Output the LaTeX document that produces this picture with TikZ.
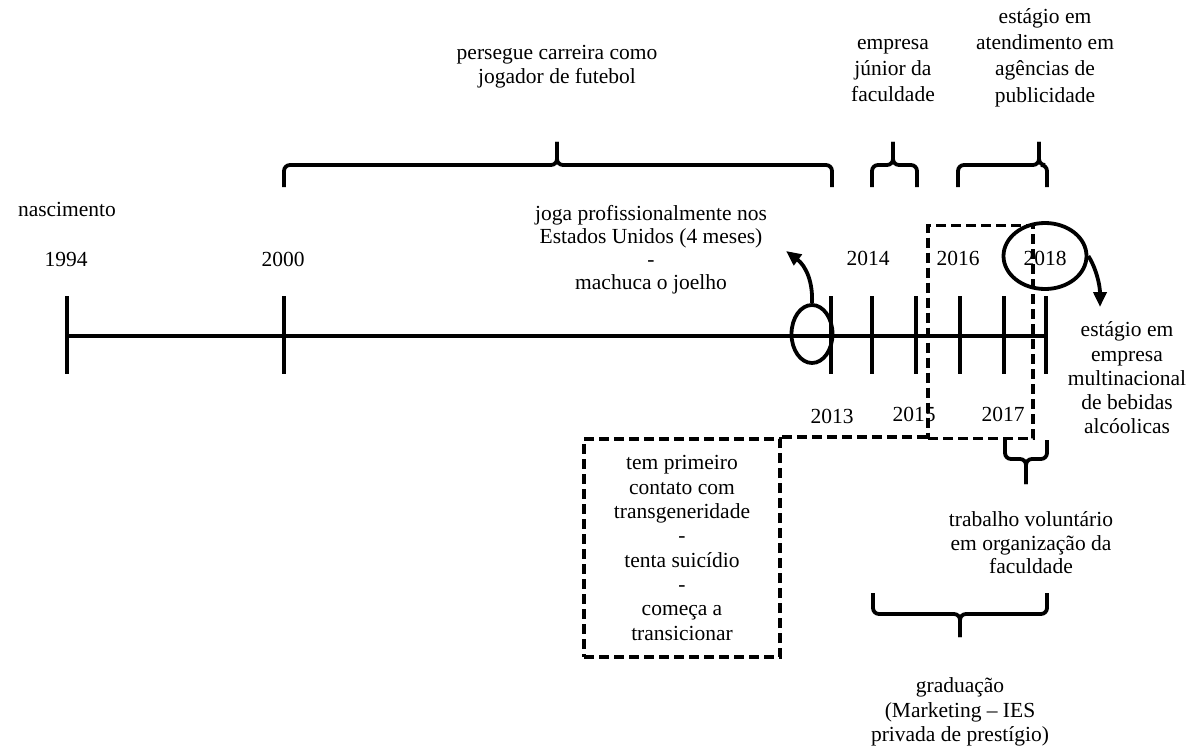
\documentclass[tikz,border=0pt]{standalone}
\usepackage{fontspec}
\setmainfont{Liberation Serif}
\usetikzlibrary{shapes.geometric,arrows.meta}

% brace: #1 left end, #2 right end, #3 tip x, #4 end y, #5 bar y, #6 tip y
\newcommand\tlbrace[6]{%
  \draw[brace line] (#1,#4) -- (#1,#5) -- (#3,#5) -- (#3,#6);
  \draw[brace line] (#2,#4) -- (#2,#5) -- (#3,#5) -- (#3,#6);}
\newcommand\lblfont[1]{\fontsize{21.5}{#1}\selectfont}

\begin{document}
\begin{tikzpicture}[x=1pt,y=-1pt,
  axis line/.style={line width=3.8pt},
  tick/.style={line width=3.8pt},
  brace line/.style={line width=3.8pt,rounded corners=6pt},
  circ/.style={draw,ellipse,line width=3.8pt,inner sep=0pt},
  dashbox/.style={draw,line width=3.8pt,dash pattern=on 10pt off 5pt,inner sep=0pt},
  dashline/.style={line width=3.8pt,dash pattern=on 10pt off 5pt},
  pointer/.style={line width=3.8pt,-{Triangle[length=15pt,width=13pt]}},
  lbl/.style={align=center,inner sep=0pt,font=\lblfont{#1}},
  lbl/.default=24.5]

\useasboundingbox (0,0) rectangle (1202,749);

% timeline axis
\draw[axis line] (67,336) -- (1046,336);
\foreach \x in {67,284,831,872,916,960,1004,1046}
  \draw[tick] (\x,296) -- (\x,374);

% year labels
\node[lbl] (y1994) at (66,259) {1994};
\node[lbl] (y2000) at (283,259) {2000};
\node[lbl] (y2014) at (868,258) {2014};
\node[lbl] (y2016) at (958,258) {2016};
\node[lbl] (y2018) at (1045,258) {2018};
\node[lbl] (y2013) at (832,416) {2013};
\node[lbl] (y2015) at (914,414) {2015};
\node[lbl] (y2017) at (1003,414) {2017};

\node[lbl] (birth) at (67,209) {nascimento};

% braces above the axis
\tlbrace{284}{832}{557}{187}{165}{142}
\tlbrace{872}{917}{893}{187}{165}{142}
\tlbrace{958}{1047}{1039}{187}{165}{142}

\node[lbl=23.5] (football) at (557,66.5) {persegue carreira como\\jogador de futebol};
\node[lbl=26] (junior) at (893,71) {empresa\\júnior da\\faculdade};
\node[lbl=26.3] (agency) at (1045,57.5) {estágio em\\atendimento em\\agências de\\publicidade};

% braces below the axis
\tlbrace{1005}{1047}{1026}{440}{459}{484}
\tlbrace{873}{1047}{960}{593}{614}{637}

\node[lbl=23.5] (volunteer) at (1031,543) {trabalho voluntário\\em organização da\\faculdade};
\node[lbl=24.5] (degree) at (960,712) {graduação\\(Marketing – IES\\privada de prestígio)};

% 2013 highlight
\node[circ,minimum width=41pt,minimum height=58pt] (e13) at (812,334) {};
\node[lbl=23] (usa) at (651,250) {joga profissionalmente nos\\Estados Unidos (4 meses)\\-\\machuca o joelho};
\coordinate (t13) at (786,251);
\draw[pointer] (e13.north) .. controls (813,282) and (806,266) .. (t13);

% 2018 highlight
\node[circ,minimum width=83pt,minimum height=66pt] (e18) at (1045,256) {};
\coordinate (t18) at (1100,307);
\node[lbl=24.3] (multi) at (1127,378) {estágio em\\empresa\\multinacional\\de bebidas\\alcóolicas};
\draw[pointer] (e18.east) .. controls (1096,268) and (1100,285) .. (t18);

% dashed frames
\node[dashbox,minimum width=196pt,minimum height=218pt,lbl=24.3] (trans) at (682,548)
  {tem primeiro\\contato com\\transgeneridade\\-\\tenta suicídio\\-\\começa a\\transicionar};
\node[dashbox,minimum width=105pt,minimum height=213pt] (span) at (980.5,332) {};
\draw[dashline] (trans.north east) -- (trans.north east -| span.south west);

\end{tikzpicture}
\end{document}
